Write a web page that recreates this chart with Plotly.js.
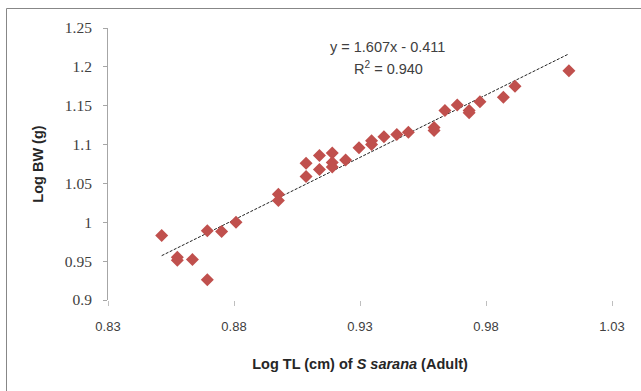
<!DOCTYPE html>
<html>
<head>
<meta charset="utf-8">
<script src="https://cdn.plot.ly/plotly-3.0.1.min.js"></script>
<style>
  html, body { margin: 0; padding: 0; background: #ffffff; }
  #chart { width: 641px; height: 391px; }
</style>
</head>
<body>
<div id="chart"></div>
<script>
// Data
const logTL = [0.8513, 0.8575, 0.8575, 0.8635, 0.8694, 0.8694, 0.8751, 0.8808, 0.8976, 0.8976,
               0.9086, 0.9086, 0.9139, 0.9139, 0.9190, 0.9190, 0.9190, 0.9243, 0.9296, 0.9346,
               0.9346, 0.9395, 0.9446, 0.9492, 0.9594, 0.9594, 0.9637, 0.9686, 0.9733, 0.9733,
               0.9776, 0.9869, 0.9915, 1.0129];
const logBW = [0.983, 0.955, 0.951, 0.952, 0.926, 0.989, 0.988, 1.000, 1.036, 1.028,
               1.076, 1.059, 1.086, 1.068, 1.089, 1.077, 1.071, 1.080, 1.096, 1.105,
               1.100, 1.110, 1.113, 1.116, 1.122, 1.118, 1.144, 1.151, 1.144, 1.141,
               1.155, 1.161, 1.175, 1.195];

// Linear trend line as printed on the chart
const trendSlope = 1.607;
const trendIntercept = -0.411;
const trendLabel = "y = 1.607x - 0.411";
const r2Label = "R<sup>2</sup> = 0.940";

const xTickVals = [0.83, 0.88, 0.93, 0.98, 1.03];
const xTickText = ["0.83", "0.88", "0.93", "0.98", "1.03"];
const yTickVals = [0.9, 0.95, 1.0, 1.05, 1.1, 1.15, 1.2, 1.25];
const yTickText = ["0.9", "0.95", "1", "1.05", "1.1", "1.15", "1.2", "1.25"];

const xTitle = "Log TL (cm) of <i>S sarana</i> (Adult)";
const yTitle = "Log BW (g)";

const xMin = Math.min(...logTL), xMax = Math.max(...logTL);
const trendX = [xMin, xMax];
const trendY = trendX.map(v => trendSlope * v + trendIntercept);

const pts = {
  x: logTL, y: logBW, type: 'scatter', mode: 'markers',
  marker: { symbol: 'diamond', size: 10, color: '#C0504D', line: { width: 0 } },
  showlegend: false, hoverinfo: 'x+y'
};
const trend = {
  x: trendX, y: trendY, type: 'scatter', mode: 'lines',
  line: { color: '#222222', width: 1, dash: '3px,1.5px' },
  showlegend: false, hoverinfo: 'skip'
};

// plot area: x 108..612 px, y 28..300 px
const L = 108, R = 612, T = 28, B = 300;
const pw = R - L, ph = B - T;
const px = v => (v - L) / pw;
const py = v => (B - v) / ph;

const sans = 'Liberation Sans, Arial, sans-serif';
const serif = 'Liberation Serif, Times New Roman, serif';

const layout = {
  width: 641, height: 391,
  margin: { l: L, r: 641 - R, t: T, b: 391 - B, pad: 0 },
  paper_bgcolor: '#ffffff', plot_bgcolor: '#ffffff',
  font: { family: sans, color: '#404040' },
  xaxis: {
    range: [0.83, 1.03], tickvals: xTickVals, ticktext: xTickText,
    showgrid: false, zeroline: false, showline: false,
    ticks: 'outside', ticklen: 5, tickwidth: 1, tickcolor: '#BFBFBF',
    tickfont: { family: sans, size: 13, color: '#404040' },
    ticklabelstandoff: 9,
    title: { text: xTitle, font: { size: 14.5, color: '#262626', family: sans, weight: 'bold' }, standoff: 26 }
  },
  yaxis: {
    range: [0.9, 1.25], tickvals: yTickVals, ticktext: yTickText,
    showgrid: false, zeroline: false,
    showline: true, linecolor: '#A6A6A6', linewidth: 1,
    ticks: 'outside', ticklen: 4, tickwidth: 1, tickcolor: '#A6A6A6',
    tickfont: { family: serif, size: 15.5, color: '#404040' },
    ticklabelstandoff: 8,
    title: { text: yTitle, font: { size: 14.5, color: '#262626', family: sans, weight: 'bold' }, standoff: 17 }
  },
  annotations: [
    { xref: 'paper', yref: 'paper', x: px(387), y: py(47), text: trendLabel, showarrow: false,
      xanchor: 'center', yanchor: 'middle', font: { size: 14.5, color: '#404040' } },
    { xref: 'paper', yref: 'paper', x: px(388), y: py(68), text: r2Label, showarrow: false,
      xanchor: 'center', yanchor: 'middle', font: { size: 14.5, color: '#404040' } }
  ],
  shapes: [
    { type: 'line', xref: 'paper', yref: 'paper', x0: px(6.5), x1: px(6.5), y0: py(8.5), y1: py(400),
      line: { color: '#878787', width: 1 } },
    { type: 'line', xref: 'paper', yref: 'paper', x0: px(6.5), x1: px(650), y0: py(8.5), y1: py(8.5),
      line: { color: '#878787', width: 1 } }
  ]
};

Plotly.newPlot('chart', [trend, pts], layout, { staticPlot: true, displayModeBar: false });
</script>
</body>
</html>
